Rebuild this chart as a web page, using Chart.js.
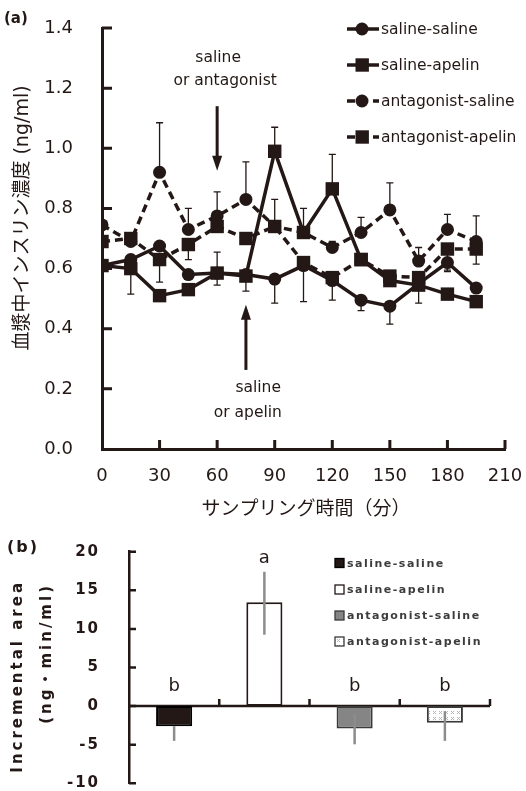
<!DOCTYPE html>
<html>
<head>
<meta charset="utf-8">
<script src="https://cdn.jsdelivr.net/npm/chart.js@4.4.1/dist/chart.umd.min.js"></script>
<style>
  html, body { margin: 0; padding: 0; background: #fff; }
  #wrap { position: relative; width: 526px; height: 791px; overflow: hidden; }
  #topChart { position: absolute; left: 0; top: 0; }
  #bottomChart { position: absolute; left: 0; top: 530px; }
</style>
</head>
<body>
<div id="wrap">
  <canvas id="topChart" width="526" height="530"></canvas>
  <canvas id="bottomChart" width="526" height="261"></canvas>
</div>
<script>
// (a) 血漿中インスリン濃度
const times = [0, 15, 30, 45, 60, 75, 90, 105, 120, 135, 150, 165, 180, 195];
const salineSaline     = [0.61, 0.63, 0.675, 0.58, 0.585, 0.58, 0.565, 0.61, 0.56, 0.495, 0.475, 0.55, 0.62, 0.535];
const salineApelin     = [0.61, 0.60, 0.51, 0.53, 0.585, 0.575, 0.99, 0.72, 0.865, 0.63, 0.56, 0.545, 0.515, 0.49];
const antagonistSaline = [0.745, 0.69, 0.92, 0.73, 0.775, 0.83, 0.74, 0.72, 0.67, 0.72, 0.795, 0.625, 0.73, 0.69];
const antagonistApelin = [0.69, 0.70, 0.63, 0.68, 0.74, 0.70, 0.74, 0.62, 0.57, 0.63, 0.575, 0.57, 0.665, 0.665];
// 片側のエラーバー (+ は上, - は下)
const salineSalineErr     = [0, 0, 0, 0, 0.07, 0, -0.08, 0, -0.065, -0.035, -0.06, 0, -0.03, 0];
const salineApelinErr     = [0, -0.085, 0, 0, -0.04, -0.05, 0.08, 0.08, 0.115, 0, 0, -0.06, 0, 0];
const antagonistSalineErr = [0, 0, 0.165, 0.07, 0.08, 0.125, 0, 0, 0.02, 0.05, 0.09, 0.045, 0.05, 0.085];
const antagonistApelinErr = [0, 0, -0.075, -0.05, 0, 0, 0.09, -0.13, 0, 0, 0, 0, -0.07, -0.05];

// (b) Incremental area
const groups = ['saline-saline', 'saline-apelin', 'antagonist-saline', 'antagonist-apelin'];
const areaMeans = [-2.6, 13.45, -2.9, -2.15];
const areaErrUp = [0, 3.95, 1.85, 1.5];
const areaErrDown = [1.9, 4.2, 2.05, 2.35];
const areaLetters = ['b', 'a', 'b', 'b'];

const INK = '#231815';
const FONT = '"DejaVu Sans", "Noto Sans CJK JP", sans-serif';

const toPoints = arr => times.map((t, i) => ({ x: t, y: arr[i] }));

// 目盛りラベルのはみ出しで描画領域が縮まないようにする
function fixSize(prop, size) {
    return s => {
        s[prop] = size;
        s.paddingLeft = 0; s.paddingRight = 0;
        s.paddingTop = 0; s.paddingBottom = 0;
    };
}

function lineSet(label, values, err, style, dashed) {
    return {
        label,
        data: toPoints(values),
        err,
        borderColor: INK,
        backgroundColor: INK,
        borderWidth: 3.5,
        borderDash: dashed ? [8, 5] : [],
        pointStyle: style,
        pointRadius: style === 'rect' ? 9.5 : 6.5,
        pointBorderWidth: 0,
        pointBackgroundColor: INK,
        tension: 0
    };
}

// エラーバー
const errorBars = {
    id: 'errorBars',
    beforeDatasetsDraw(chart) {
        const { ctx, scales: { x, y } } = chart;
        ctx.save();
        ctx.strokeStyle = INK;
        ctx.lineWidth = 1.3;
        chart.data.datasets.forEach(ds => {
            ds.err.forEach((e, i) => {
                if (!e) return;
                const px = x.getPixelForValue(ds.data[i].x);
                const y0 = y.getPixelForValue(ds.data[i].y);
                const y1 = y.getPixelForValue(ds.data[i].y + e);
                ctx.beginPath();
                ctx.moveTo(px, y0); ctx.lineTo(px, y1);
                ctx.moveTo(px - 3.5, y1); ctx.lineTo(px + 3.5, y1);
                ctx.stroke();
            });
        });
        ctx.restore();
    }
};

function arrow(ctx, x, yFrom, yTo) {
    const dir = yTo > yFrom ? 1 : -1;
    ctx.beginPath();
    ctx.moveTo(x, yFrom);
    ctx.lineTo(x, yTo - dir * 12);
    ctx.stroke();
    ctx.beginPath();
    ctx.moveTo(x, yTo);
    ctx.lineTo(x - 5, yTo - dir * 15);
    ctx.lineTo(x + 5, yTo - dir * 15);
    ctx.closePath();
    ctx.fill();
}

// 目盛り・注釈・凡例
const topDecor = {
    id: 'topDecor',
    afterDraw(chart) {
        const { ctx, chartArea: a, scales: { x, y } } = chart;
        ctx.save();
        ctx.strokeStyle = INK;
        ctx.fillStyle = INK;
        ctx.lineWidth = 3;
        ctx.beginPath();
        y.ticks.forEach(t => {
            const py = y.getPixelForValue(t.value);
            if (t.value === 0) return;
            ctx.moveTo(a.left, py); ctx.lineTo(a.left + 10, py);
        });
        x.ticks.forEach(t => {
            const px = x.getPixelForValue(t.value);
            if (t.value === 0) return;
            ctx.moveTo(px, a.bottom); ctx.lineTo(px, a.bottom - 9);
        });
        ctx.stroke();

        // 矢印
        ctx.lineWidth = 3;
        arrow(ctx, x.getPixelForValue(60), y.getPixelForValue(1.14), y.getPixelForValue(0.925));
        arrow(ctx, x.getPixelForValue(75), y.getPixelForValue(0.263), y.getPixelForValue(0.48));

        ctx.font = '15.5px ' + FONT;
        ctx.textBaseline = 'middle';
        ctx.textAlign = 'center';
        ctx.fillText('saline', x.getPixelForValue(60) + 1, y.getPixelForValue(1.3));
        ctx.fillText('or antagonist', x.getPixelForValue(60) + 8, y.getPixelForValue(1.224));
        ctx.textAlign = 'right';
        ctx.fillText('saline', x.getPixelForValue(75) + 35, y.getPixelForValue(0.203));
        ctx.fillText('or apelin', x.getPixelForValue(75) + 36, y.getPixelForValue(0.12));

        // 凡例
        ctx.textAlign = 'left';
        chart.data.datasets.forEach((ds, i) => {
            const ly = 29 + i * 36;
            ctx.lineWidth = 3.5;
            ctx.setLineDash(ds.borderDash);
            ctx.beginPath();
            ctx.moveTo(347, ly); ctx.lineTo(379, ly);
            ctx.stroke();
            ctx.setLineDash([]);
            ctx.beginPath();
            if (ds.pointStyle === 'rect') {
                ctx.rect(355.5, ly - 6.7, 13.4, 13.4);
            } else {
                ctx.arc(362, ly, 6.5, 0, Math.PI * 2);
            }
            ctx.fill();
            ctx.fillText(ds.label, 381, ly + 1);
        });

        // 軸タイトル
        ctx.font = 'bold 15px ' + FONT;
        ctx.fillText('(a)', 4, 19);
        ctx.font = '19px ' + FONT;
        ctx.textAlign = 'center';
        ctx.fillText('サンプリング時間（分）', 306, 510);
        ctx.translate(23, 218);
        ctx.rotate(-Math.PI / 2);
        ctx.fillText('血漿中インスリン濃度 (ng/ml)', 0, 0);
        ctx.restore();
    }
};

new Chart(document.getElementById('topChart'), {
    type: 'line',
    data: {
        datasets: [
            lineSet('saline-saline', salineSaline, salineSalineErr, 'circle', false),
            lineSet('saline-apelin', salineApelin, salineApelinErr, 'rect', false),
            lineSet('antagonist-saline', antagonistSaline, antagonistSalineErr, 'circle', true),
            lineSet('antagonist-apelin', antagonistApelin, antagonistApelinErr, 'rect', true)
        ]
    },
    options: {
        responsive: false,
        animation: false,
        layout: { padding: { top: 28, right: 21, left: 0, bottom: 0 } },
        plugins: { legend: { display: false }, tooltip: { enabled: false } },
        scales: {
            x: {
                type: 'linear', min: 0, max: 210,
                grid: { display: false, drawTicks: false },
                border: { color: INK, width: 3 },
                ticks: { stepSize: 30, padding: 17, color: INK, font: { family: FONT, size: 18 } },
                afterFit: fixSize('height', 81)
            },
            y: {
                min: 0, max: 1.4,
                grid: { display: false, drawTicks: false },
                border: { color: INK, width: 3 },
                ticks: { stepSize: 0.2, padding: 29, color: INK, font: { family: FONT, size: 18 },
                    callback: v => v.toFixed(1) },
                afterFit: fixSize('width', 102)
            }
        }
    },
    plugins: [errorBars, topDecor]
});

// 網掛けパターン
function dotPattern() {
    const c = document.createElement('canvas');
    c.width = 6; c.height = 6;
    const g = c.getContext('2d');
    g.fillStyle = '#fff';
    g.fillRect(0, 0, 6, 6);
    g.strokeStyle = '#b5b5b5';
    g.lineWidth = 1;
    g.beginPath();
    g.moveTo(1, 1); g.lineTo(4, 4);
    g.moveTo(4, 1); g.lineTo(1, 4);
    g.stroke();
    return g.createPattern(c, 'repeat');
}

const barFills = [INK, '#ffffff', '#858585', dotPattern()];
const barBorders = ['#000', INK, '#3a3a3a', '#3a3a3a'];

const bottomDecor = {
    id: 'bottomDecor',
    beforeDraw(chart) {
        chart.ctx.letterSpacing = '2px';
    },
    beforeDatasetsDraw(chart) {
        // y = 0 の横軸
        const { ctx, chartArea: a, scales: { y } } = chart;
        const y0 = y.getPixelForValue(0);
        ctx.save();
        ctx.strokeStyle = INK;
        ctx.lineWidth = 2.5;
        ctx.beginPath();
        ctx.moveTo(a.left, y0); ctx.lineTo(a.right, y0);
        ctx.stroke();
        ctx.restore();
    },
    afterDraw(chart) {
        const { ctx, chartArea: a, scales: { x, y } } = chart;
        ctx.save();
        ctx.strokeStyle = INK;
        ctx.lineWidth = 2.5;
        ctx.beginPath();
        y.ticks.forEach(t => {
            const py = y.getPixelForValue(t.value);
            ctx.moveTo(a.left, py); ctx.lineTo(a.left + 7, py);
        });
        const y0 = y.getPixelForValue(0);
        groups.forEach((g, i) => {
            const px = x.getPixelForValue(i + 0.5);
            ctx.moveTo(px, y0); ctx.lineTo(px, y0 - 7);
        });
        ctx.stroke();

        // エラーバー
        ctx.strokeStyle = '#8c8c8c';
        ctx.lineWidth = 2.5;
        areaMeans.forEach((m, i) => {
            const px = x.getPixelForValue(i);
            ctx.beginPath();
            ctx.moveTo(px, y.getPixelForValue(m + areaErrUp[i]));
            ctx.lineTo(px, y.getPixelForValue(m - areaErrDown[i]));
            ctx.stroke();
        });

        // 有意差の文字
        ctx.letterSpacing = '0px';
        ctx.fillStyle = INK;
        ctx.font = '18px ' + FONT;
        ctx.textAlign = 'center';
        ctx.textBaseline = 'middle';
        areaLetters.forEach((l, i) => {
            const top = Math.max(0, areaMeans[i] + areaErrUp[i]);
            const py = top > 0 ? y.getPixelForValue(top) - 13 : y0 - 20;
            ctx.fillText(l, x.getPixelForValue(i), py);
        });

        // 凡例
        ctx.textAlign = 'left';
        ctx.font = 'bold 11px ' + FONT;
        ctx.letterSpacing = '1.5px';
        const rows = [33, 59.5, 85.5, 111.5];
        groups.forEach((g, i) => {
            ctx.fillStyle = barFills[i];
            ctx.fillRect(335, rows[i] - 4.5, 9, 9);
            ctx.strokeStyle = barBorders[i];
            ctx.lineWidth = 1.3;
            ctx.strokeRect(335, rows[i] - 4.5, 9, 9);
            ctx.fillStyle = '#3c3c3c';
            ctx.fillText(g, 347, rows[i] + 1);
        });

        // タイトル
        ctx.fillStyle = INK;
        ctx.font = 'bold 16px ' + FONT;
        ctx.letterSpacing = '2px';
        ctx.fillText('(b)', 7, 18);
        ctx.font = 'bold 15px ' + FONT;
        ctx.letterSpacing = '3px';
        ctx.textAlign = 'right';
        ctx.save();
        ctx.translate(18, 50);
        ctx.rotate(-Math.PI / 2);
        ctx.fillText('Incremental area', 0, 0);
        ctx.restore();
        ctx.translate(47, 53);
        ctx.rotate(-Math.PI / 2);
        ctx.fillText('(ng・min/ml)', 0, 0);
        ctx.restore();
    }
};

new Chart(document.getElementById('bottomChart'), {
    type: 'bar',
    data: {
        labels: groups,
        datasets: [{
            data: areaMeans,
            backgroundColor: barFills,
            borderColor: barBorders,
            borderWidth: 2,
            borderSkipped: false,
            barPercentage: 0.4,
            categoryPercentage: 1
        }]
    },
    options: {
        responsive: false,
        animation: false,
        layout: { padding: { top: 21.7, right: 36, bottom: 7.7, left: 0 } },
        plugins: { legend: { display: false }, tooltip: { enabled: false } },
        scales: {
            x: { display: false },
            y: {
                min: -10, max: 20,
                grid: { display: false, drawTicks: false },
                border: { color: INK, width: 2.5 },
                ticks: { stepSize: 5, padding: 29, color: INK, font: { family: FONT, size: 15, weight: 'bold' } },
                afterFit: fixSize('width', 129)
            }
        }
    },
    plugins: [bottomDecor]
});
</script>
</body>
</html>
